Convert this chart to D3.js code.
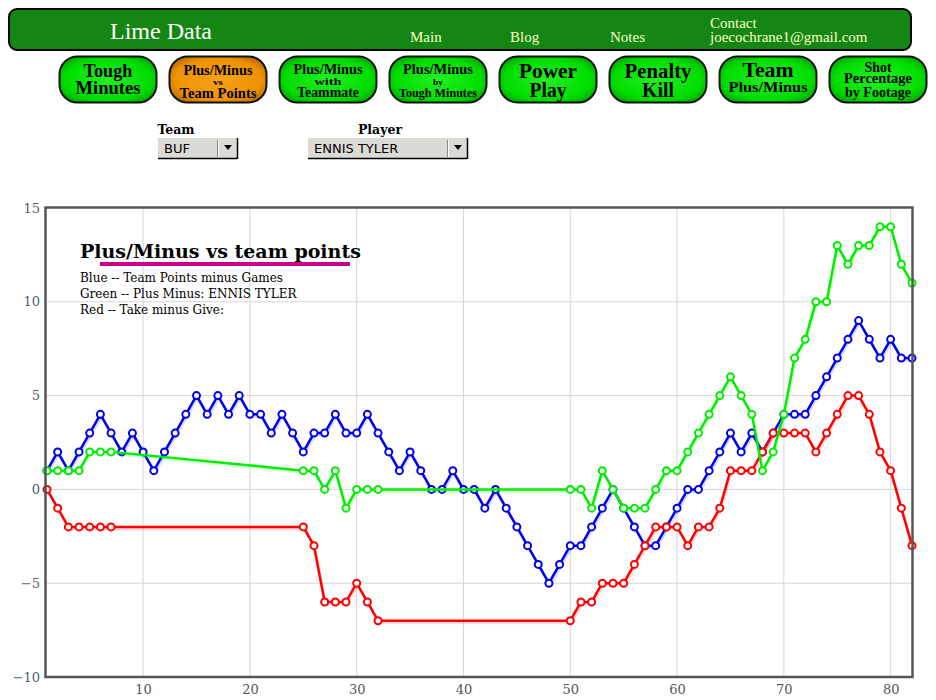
<!DOCTYPE html>
<html><head><meta charset="utf-8">
<script src="https://cdn.jsdelivr.net/npm/d3@7/dist/d3.min.js"></script>
<style>body{margin:0;background:#fff}svg{display:block}</style>
</head><body>
<svg id="c" width="936" height="700"></svg>
<script>
// ---- data ----
const games = d3.range(1, 83);
const blueTeamPts = [1,2,1,2,3,4,3,2,3,2,1,2,3,4,5,4,5,4,5,4,4,3,4,3,2,3,3,4,3,3,4,3,2,1,2,1,0,0,1,0,0,-1,0,-1,-2,-3,-4,-5,-4,-3,-3,-2,-1,0,-1,-2,-3,-3,-2,-1,0,0,1,2,3,2,3,2,3,4,4,4,5,6,7,8,9,8,7,8,7,7];
const N = null;
const greenPlusMinus = [1,1,1,1,2,2,2,N,N,N,N,N,N,N,N,N,N,N,N,N,N,N,N,N,1,1,0,1,-1,0,0,0,N,N,N,N,N,N,N,N,N,N,N,N,N,N,N,N,N,0,0,-1,1,0,-1,-1,-1,0,1,1,2,3,4,5,6,5,4,1,2,4,7,8,10,10,13,12,13,13,14,14,12,11];
const redTakeGive = [0,-1,-2,-2,-2,-2,-2,N,N,N,N,N,N,N,N,N,N,N,N,N,N,N,N,N,-2,-3,-6,-6,-6,-5,-6,-7,N,N,N,N,N,N,N,N,N,N,N,N,N,N,N,N,N,-7,-6,-6,-5,-5,-5,-4,-3,-2,-2,-2,-3,-2,-2,-1,1,1,1,2,3,3,3,3,2,3,4,5,5,4,2,1,-1,-3];
const xTicks = [10,20,30,40,50,60,70,80];
const yTicks = [-10,-5,0,5,10,15];
const legendLines = ["Blue -- Team Points minus Games","Green -- Plus Minus: ENNIS TYLER","Red -- Take minus Give:"];
const navLinks = ["Main","Blog","Notes"];
// [text, font size, baseline, width]
const buttons = [
  {lines:[["Tough",19,77,49],["Minutes",19,94,65]]},
  {lines:[["Plus/Minus",15,75,69],["vs",8,85,10],["Team Points",15,97.5,77]], active:true},
  {lines:[["Plus/Minus",15,74,69],["with",10,84.5,27],["Teammate",14,96.5,62]]},
  {lines:[["Plus/Minus",15,74,70],["by",9,84.5,10],["Tough Minutes",13,96.5,78]]},
  {lines:[["Power",21,78,58],["Play",21,97,37]]},
  {lines:[["Penalty",21,78,67],["Kill",21,97,32]]},
  {lines:[["Team",21,77,51],["Plus/Minus",15,91.5,79]]},
  {lines:[["Shot",14,71.5,27],["Percentage",14,83,68],["by Footage",14,96.5,66]]}
];

const svg = d3.select("#c");
const defs = svg.append("defs");
const gG = defs.append("radialGradient").attr("id","gGreen").attr("cx","50%").attr("cy","50%").attr("r","60%");
gG.append("stop").attr("offset","0%").attr("stop-color","#22f022");
gG.append("stop").attr("offset","75%").attr("stop-color","#00dd00");
gG.append("stop").attr("offset","100%").attr("stop-color","#00a800");
const gO = defs.append("radialGradient").attr("id","gOrange").attr("cx","50%").attr("cy","50%").attr("r","60%");
gO.append("stop").attr("offset","0%").attr("stop-color","#f7a21a");
gO.append("stop").attr("offset","75%").attr("stop-color","#ee9200");
gO.append("stop").attr("offset","100%").attr("stop-color","#b86a00");

// ---- header ----
svg.append("rect").attr("x",9).attr("y",9).attr("width",902).attr("height",41).attr("rx",8)
  .attr("fill","#138613").attr("stroke","#000").attr("stroke-width",2);
svg.append("text").attr("x",110).attr("y",39).attr("font-family","Liberation Serif").attr("font-size",24)
  .attr("fill","#fff").text("Lime Data");
navLinks.forEach((t,i)=>{
  svg.append("text").attr("x",410+i*100).attr("y",42).attr("font-family","Liberation Serif").attr("font-size",15)
    .attr("fill","#ffffc8").text(t);
});
svg.append("text").attr("x",710).attr("y",28).attr("font-family","Liberation Serif").attr("font-size",15).attr("fill","#ffffc8").text("Contact");
svg.append("text").attr("x",710).attr("y",42).attr("font-family","Liberation Serif").attr("font-size",15).attr("fill","#ffffc8").text("joecochrane1@gmail.com");

// ---- buttons ----
buttons.forEach((b,i)=>{
  const x0 = 59 + i*110;
  svg.append("rect").attr("x",x0+0.5).attr("y",56.5).attr("width",97).attr("height",46).attr("rx",18)
    .attr("fill", b.active ? "url(#gOrange)" : "url(#gGreen)").attr("stroke","#111").attr("stroke-width",2);
  const cx = x0 + 49;
  b.lines.forEach(([t,s,y,w])=>{
    svg.append("text").attr("x",cx - w/2).attr("y",y)
      .attr("font-family","Liberation Serif").attr("font-weight","bold").attr("font-size",s).attr("fill","#000")
      .attr("textLength",w).attr("lengthAdjust","spacingAndGlyphs").text(t);
  });
});

// ---- dropdowns ----
function dropdown(lbl, lblX, x, w, val){
  svg.append("text").attr("x",lblX).attr("y",134).attr("text-anchor","middle").attr("font-family","DejaVu Serif")
    .attr("font-weight","bold").attr("font-size",12.5).attr("fill","#000").text(lbl);
  svg.append("rect").attr("x",x).attr("y",138).attr("width",w).attr("height",20).attr("fill","#dcdad5");
  svg.append("line").attr("x1",x).attr("x2",x+w).attr("y1",158.5).attr("y2",158.5).attr("stroke","#000").attr("stroke-width",1.5);
  svg.append("line").attr("x1",x+w+0.5).attr("x2",x+w+0.5).attr("y1",138).attr("y2",159).attr("stroke","#000").attr("stroke-width",1.5);
  svg.append("line").attr("x1",x+w-19.5).attr("x2",x+w-19.5).attr("y1",140).attr("y2",157).attr("stroke","#888");
  svg.append("line").attr("x1",x+w-18.5).attr("x2",x+w-18.5).attr("y1",140).attr("y2",157).attr("stroke","#fff");
  const ax = x+w-9;
  svg.append("path").attr("d",`M${ax-4},145 L${ax+4},145 L${ax},150 Z`).attr("fill","#000");
  svg.append("text").attr("x",x+6).attr("y",153).attr("font-family","DejaVu Sans").attr("font-size",13).attr("fill","#000").text(val);
}
dropdown("Team",176,158,79,"BUF");
dropdown("Player",380,308,159,"ENNIS TYLER");

// ---- chart ----
const x = d3.scaleLinear().domain([1,82]).range([47,912]);
const y = d3.scaleLinear().domain([-10,15]).range([677,208]);

const grid = svg.append("g");
grid.selectAll("line.v").data(xTicks).join("line").attr("x1",d=>x(d)).attr("x2",d=>x(d)).attr("y1",208).attr("y2",677)
  .attr("stroke","#d6d6d6").attr("stroke-width",1);
grid.selectAll("line.h").data(yTicks.filter(d=>d>-10&&d<15)).join("line").attr("x1",46).attr("x2",912).attr("y1",d=>y(d)).attr("y2",d=>y(d))
  .attr("stroke","#d6d6d6").attr("stroke-width",1);

// axes labels
const yAxis = d3.axisLeft(y).tickValues(yTicks).tickSize(0).tickPadding(6);
const ya = svg.append("g").attr("transform","translate(46,0)").call(yAxis);
ya.select(".domain").remove();
ya.selectAll("text").attr("font-family","DejaVu Serif").attr("font-size",13).attr("fill","#4e5e6e");
const xAxis = d3.axisBottom(x).tickValues(xTicks).tickSize(0).tickPadding(8);
const xa = svg.append("g").attr("transform","translate(0,677)").call(xAxis);
xa.select(".domain").remove();
xa.selectAll("text").attr("font-family","DejaVu Serif").attr("font-size",13).attr("fill","#555");

// title & legend
svg.append("rect").attr("x",100).attr("y",262).attr("width",250).attr("height",4).attr("fill","#cc0088");
svg.append("text").attr("x",80).attr("y",258).attr("font-family","DejaVu Serif").attr("font-weight","bold")
  .attr("font-size",19).attr("fill","#000").text("Plus/Minus vs team points");
legendLines.forEach((t,i)=>{
  svg.append("text").attr("x",80).attr("y",282+i*16).attr("font-family","DejaVu Serif").attr("font-size",12)
    .attr("fill","#000").text(t);
});

// series
const series = [
  {vals: blueTeamPts, color:"#0000ee"},
  {vals: redTakeGive, color:"#ff0000"},
  {vals: greenPlusMinus, color:"#00ee00"}
];
const line = d3.line().x(d=>x(d.g)).y(d=>y(d.v));
series.forEach(s=>{
  const pts = games.map((g,i)=>({g, v:s.vals[i]})).filter(d=>d.v!==null);
  const g = svg.append("g");
  g.append("path").attr("d",line(pts)).attr("fill","none").attr("stroke",s.color).attr("stroke-opacity",0.15)
    .attr("stroke-width",3).attr("transform","translate(1,2)");
  g.append("path").attr("d",line(pts)).attr("fill","none").attr("stroke",s.color).attr("stroke-width",2.5)
    .attr("stroke-linejoin","round");
  g.selectAll("circle").data(pts).join("circle").attr("cx",d=>x(d.g)).attr("cy",d=>y(d.v)).attr("r",3.5)
    .attr("fill","#fff").attr("stroke",s.color).attr("stroke-width",2);
});

// frame
svg.append("rect").attr("x",45.5).attr("y",207.5).attr("width",867).attr("height",469.5)
  .attr("fill","none").attr("stroke","#555").attr("stroke-width",2.5);
</script>
</body></html>
